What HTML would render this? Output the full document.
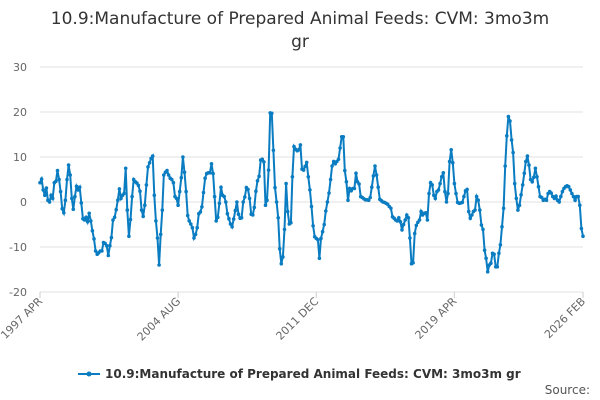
<!DOCTYPE html>
<html><head><meta charset="utf-8"><style>
body{margin:0;background:#fff;font-family:"DejaVu Sans","Liberation Sans",sans-serif}
#wrap{position:relative;width:600px;height:400px;overflow:hidden}
svg text{font-family:"DejaVu Sans","Liberation Sans",sans-serif}
</style></head><body>
<div id="wrap">
<svg id="svg" width="600" height="400" xmlns="http://www.w3.org/2000/svg">
<text x="300" y="24" text-anchor="middle" font-size="17" fill="#333">10.9:Manufacture of Prepared Animal Feeds: CVM: 3mo3m</text>
<text x="300" y="47" text-anchor="middle" font-size="17" fill="#333">gr</text>
<g id="grid"></g>
<g id="xaxis"></g>
<g id="series"></g>
<g>
<line x1="78" y1="374" x2="100" y2="374" stroke="#0a7cc1" stroke-width="2"/>
<circle cx="89" cy="374" r="2.5" fill="#0a7cc1"/>
<text x="105" y="378" font-size="12" font-weight="bold" fill="#333">10.9:Manufacture of Prepared Animal Feeds: CVM: 3mo3m gr</text>
</g>
<text x="590" y="394" text-anchor="end" font-size="12" fill="#555">Source:</text>
</svg>
</div>
<script>
const values = [4.3,5.1,2.7,1.5,3.1,0.4,0,1.5,0.8,4.3,4.6,7,5,2.3,-1.5,-2.4,0.4,5,8.2,6,0.8,-1.6,1.2,3.5,2.7,3.3,-0.2,-3.7,-4,-3.4,-4.4,-2.5,-4.2,-6.4,-8.2,-10.9,-11.6,-11.3,-10.9,-10.9,-9,-9.2,-9.7,-11.9,-9.7,-7.9,-4,-3.4,-1.7,0.4,2.9,0.8,1.5,1.9,7.5,-1.8,-7.6,-3.9,1.2,5,
4.5,4.2,3.7,2.4,-1.8,-3.2,-0.7,3.8,7.8,8.7,9.7,10.2,1.5,-4.2,-8,-14,-7.2,-1.8,6,6.6,7,6,5.3,5,4.3,1.2,0.8,-0.7,2.3,5.4,10,6.6,2.3,-3,-4.2,-4.9,-5.7,-8,-7.2,-5.7,-2.6,-2.2,-1.1,2.1,5.3,6.3,6.5,6.5,8.5,6.3,1.2,-4.2,-3.4,-0.3,3.3,1.5,1.2,0,-2.6,-3.7,
-4.9,-5.5,-3.8,-1.9,0,-2.7,-3.6,-3.5,0,1.1,3.2,2.8,0.8,-2.7,-2.9,-1.2,2.4,4.7,5.7,9.3,9.5,8.9,-0.7,0.4,7.1,19.8,19.7,11.5,3.2,0,-3.5,-10.4,-13.7,-12.2,-6.1,4.1,-2.1,-4.9,-4.6,5.6,12.3,11.7,11.4,11.6,12.7,7.3,7.1,7.9,8.8,5.6,2.7,-1,-5.3,-7.7,-8.1,-8.4,-12.5,-8.1,-6.6,
-5,-2,0,2,5,8,9,8.5,9,9.5,12,14.5,14.5,7,4.5,0.4,3,2.5,3,3,6.4,4.5,4,1.2,1,0.7,0.5,0.5,0.4,1,3.3,5.8,8,6,3.3,0.6,0.3,0,-0.1,-0.3,-0.5,-1,-1.4,-3.3,-3.6,-4,-4.2,-3.5,-4.4,-6.2,-5,-4,-2.9,-3.5,-8,-13.7,-13.5,-7,-5.2,-4.5,-4,
-2.1,-2.9,-2.5,-2.4,-4,1.9,4.3,3.8,1.5,0.8,2.3,2.7,4.1,5.6,6.5,2.3,0,1.9,9,11.6,8.7,4.1,1.9,-0.1,-0.3,-0.2,-0.1,1.2,2.5,2.8,-2.1,-3.6,-2.9,-2.1,-1.8,1.2,0.4,-1.8,-5.1,-6.1,-10.7,-12.5,-15.5,-14,-13.6,-11.4,-11.6,-14.4,-14.4,-11.4,-9.5,-5.5,-1.4,8,
14.7,19,18,13.8,11,4.1,0.8,-1.8,-0.7,1.6,3.8,6.4,9,10.2,8.2,5,4.5,5.5,7.5,5.6,3.4,1.2,1,0.4,0.6,0.4,1.9,2.3,2,1.2,0.8,1.3,0.4,0,1.2,2.3,3,3.4,3.6,3.4,2.7,1.9,1.2,0.4,1.2,1.2,-0.7,-5.9,-7.6];
const yTicks = [30,20,10,0,-10,-20];
const xTickLabels = ["1997 APR","2004 AUG","2011 DEC","2019 APR","2026 FEB"];
const xTickMonths = [0,88,176,264,346];
const totalMonths = 346;

const X0=40,X1=583,Y0=67,Y1=292,VMAX=30,VMIN=-20;
const ns="http://www.w3.org/2000/svg";
function yS(v){return Y0+(VMAX-v)/(VMAX-VMIN)*(Y1-Y0);}
function xM(m){return X0+m/totalMonths*(X1-X0);}
function xI(i){return X0+i/(values.length-1)*(X1-X0);}
const grid=document.getElementById('grid');
yTicks.forEach(t=>{
  const l=document.createElementNS(ns,'line');
  l.setAttribute('x1',X0);l.setAttribute('x2',X1);l.setAttribute('y1',yS(t));l.setAttribute('y2',yS(t));
  l.setAttribute('stroke','#e0e0e0');l.setAttribute('stroke-width','1');
  
  
  grid.appendChild(l);
  const tx=document.createElementNS(ns,'text');
  tx.setAttribute('x',27);tx.setAttribute('y',yS(t)+4);tx.setAttribute('text-anchor','end');
  tx.setAttribute('font-size','11');tx.setAttribute('fill','#666');tx.textContent=t;
  
  
  grid.appendChild(tx);
});
const xa=document.getElementById('xaxis');
xTickMonths.forEach((m,k)=>{
  const x=xM(m);
  const tk=document.createElementNS(ns,'line');
  tk.setAttribute('x1',x);tk.setAttribute('x2',x);tk.setAttribute('y1',Y1);tk.setAttribute('y2',Y1+6);
  tk.setAttribute('stroke','#ccc');
  
  
  xa.appendChild(tk);
  const tx=document.createElementNS(ns,'text');
  tx.setAttribute('x',x+3);tx.setAttribute('y',Y1+10);tx.setAttribute('text-anchor','end');
  tx.setAttribute('font-size','11');tx.setAttribute('fill','#666');
  tx.setAttribute('transform','rotate(-45 '+(x+3)+' '+(Y1+10)+')');
  tx.textContent=xTickLabels[k];
  
  
  xa.appendChild(tx);
});
const sg=document.getElementById('series');
const p=document.createElementNS(ns,'path');
p.setAttribute('d',values.map((v,i)=>(i?'L':'M')+xI(i).toFixed(1)+' '+yS(v).toFixed(1)).join(''));
p.setAttribute('fill','none');p.setAttribute('stroke','#0a7cc1');p.setAttribute('stroke-width','2');


sg.appendChild(p);
values.forEach((v,i)=>{
  const c=document.createElementNS(ns,'circle');
  c.setAttribute('cx',xI(i).toFixed(1));c.setAttribute('cy',yS(v).toFixed(1));c.setAttribute('r','1.8');
  c.setAttribute('fill','#0a7cc1');
  
  
  sg.appendChild(c);
});
</script>
</body></html>
